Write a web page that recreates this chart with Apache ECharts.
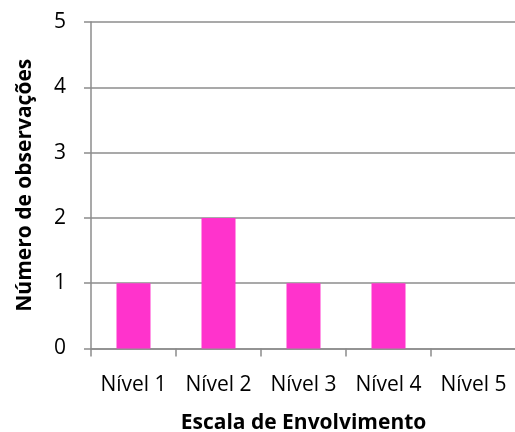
<!DOCTYPE html>
<html>
<head>
<meta charset="utf-8">
<script src="https://cdn.jsdelivr.net/npm/echarts@6/dist/echarts.min.js"></script>
<style>
html,body{margin:0;padding:0;background:#fff;}
#chart{width:515px;height:432px;}
</style>
</head>
<body>
<div id="chart"></div>
<script>
// Observation counts per involvement level
const categories = ['Nível 1', 'Nível 2', 'Nível 3', 'Nível 4', 'Nível 5'];
const counts = [1, 2, 1, 1, 0];
const yTicks = [0, 1, 2, 3, 4, 5];

const chart = echarts.init(document.getElementById('chart'), null, {renderer: 'canvas'});
const font = '"Open Sans", "Noto Sans", sans-serif';
const lineGray = '#8c8c8c';

chart.setOption({
  animation: false,
  backgroundColor: '#ffffff',
  grid: {left: 91, right: -1, top: 22, bottom: 83.5, containLabel: false, outerBoundsMode: 'none'},
  xAxis: {
    type: 'category',
    data: categories,
    boundaryGap: true,
    axisLine: {lineStyle: {color: lineGray, width: 1.5}},
    axisTick: {show: true, interval: 0, length: 8, lineStyle: {color: lineGray, width: 1.5}},
    axisLabel: {interval: 0, hideOverlap: false, color: '#000', fontFamily: font, fontSize: 21, margin: 26},
    name: 'Escala de Envolvimento',
    nameLocation: 'middle',
    nameGap: 64,
    nameTextStyle: {color: '#000', fontFamily: font, fontSize: 21, fontWeight: 'bold'}
  },
  yAxis: {
    type: 'value',
    min: yTicks[0],
    max: yTicks[yTicks.length - 1],
    interval: 1,
    axisLine: {show: true, lineStyle: {color: lineGray, width: 1.5}},
    axisTick: {show: true, length: 7, lineStyle: {color: lineGray, width: 1.5}},
    axisLabel: {color: '#000', fontFamily: font, fontSize: 21, margin: 25},
    splitLine: {show: true, lineStyle: {color: lineGray, width: 1.5}},
    name: 'Número de observações',
    nameLocation: 'middle',
    nameGap: 55,
    nameTextStyle: {color: '#000', fontFamily: font, fontSize: 21, fontWeight: 'bold'}
  },
  series: [{
    type: 'bar',
    data: counts,
    barWidth: '40%',
    itemStyle: {color: '#ff33cc'}
  }]
});
</script>
</body>
</html>
